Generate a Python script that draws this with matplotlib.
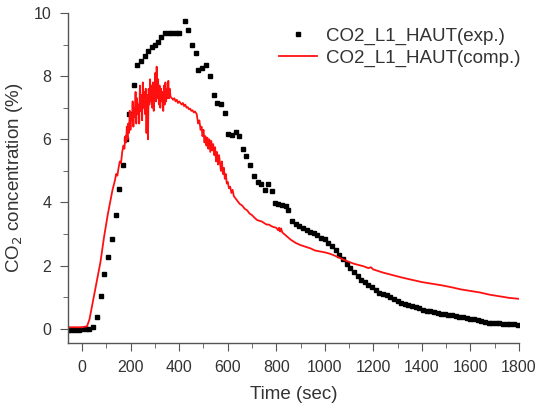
import matplotlib
matplotlib.use('Agg')
import matplotlib.pyplot as plt
from matplotlib.ticker import MultipleLocator

# Experimental data (one point every ~15 s)
exp_t = [-60, -45, -30, -15, 0, 15, 30, 45, 62, 76, 90, 107, 122, 139, 153, 167, 180,
         193, 212, 227, 242, 258, 273, 289, 302, 312, 326, 343, 358, 372, 386, 400,
         422, 436, 451, 468, 479, 494, 512, 527, 542, 557, 572, 587, 601, 617, 632,
         647, 662, 677, 692, 707, 723, 738, 753, 767, 783, 794, 809, 824, 839, 850,
         865, 880, 895, 910, 925, 940, 955, 970, 985, 1000, 1015, 1030, 1045, 1060,
         1075, 1090, 1105, 1120, 1135, 1150, 1165, 1180, 1195, 1210, 1225, 1240, 1255,
         1270, 1285, 1300, 1315, 1330, 1345, 1360, 1375, 1390, 1405, 1420, 1435, 1450,
         1465, 1480, 1495, 1510, 1525, 1540, 1555, 1570, 1585, 1600, 1615, 1630, 1645,
         1660, 1675, 1690, 1705, 1720, 1735, 1750, 1765, 1780, 1795]
exp_c = [-0.03, -0.03, -0.03, -0.03, -0.02, -0.02, 0.0, 0.06, 0.39, 1.03, 1.75, 2.27, 2.83,
         3.6, 4.43, 5.18, 6.0, 6.8, 7.73, 8.34, 8.49, 8.63, 8.78, 8.91, 8.98, 9.09, 9.24,
         9.37, 9.37, 9.37, 9.37, 9.38, 9.74, 9.47, 9.0, 8.73, 8.18, 8.26, 8.35, 8.0, 7.39,
         7.15, 7.12, 6.84, 6.18, 6.15, 6.23, 6.09, 5.68, 5.46, 5.2, 4.83, 4.64, 4.57, 4.41,
         4.59, 4.35, 3.98, 3.95, 3.92, 3.88, 3.75, 3.4, 3.32, 3.25, 3.18, 3.12, 3.06, 3.02,
         2.97, 2.88, 2.83, 2.72, 2.62, 2.48, 2.35, 2.22, 2.05, 1.92, 1.8, 1.66, 1.55, 1.48,
         1.4, 1.32, 1.22, 1.14, 1.1, 1.06, 1.0, 0.94, 0.87, 0.81, 0.77, 0.75, 0.72, 0.69,
         0.65, 0.61, 0.58, 0.55, 0.52, 0.5, 0.48, 0.46, 0.44, 0.43, 0.41, 0.38, 0.36, 0.34,
         0.32, 0.3, 0.28, 0.25, 0.22, 0.2, 0.19, 0.18, 0.17, 0.16, 0.15, 0.15, 0.14, 0.13]

# Computed data, (time, concentration) pairs
comp_pts = [
    (-60, 0.05), (0, 0.05), (20, 0.08), (30, 0.3), (45, 0.9), (60, 1.5), (75, 2.1),
    (90, 2.9), (105, 3.6), (115, 4.0), (125, 4.4), (135, 4.7), (140, 4.9), (145, 4.85),
    (150, 5.1), (155, 5.3), (160, 5.25), (165, 5.6), (170, 5.8), (174, 5.7), (178, 6.1),
    (181, 5.9), (184, 6.4), (187, 6.0), (190, 6.5), (193, 6.2), (196, 6.9), (199, 6.3),
    (202, 6.8), (205, 6.6), (208, 7.2), (211, 6.4), (214, 7.0), (217, 6.7), (220, 7.5),
    (223, 6.5), (226, 7.3), (229, 6.8), (232, 7.1), (235, 6.5), (238, 7.7), (241, 6.9),
    (244, 7.4), (247, 6.6), (250, 7.8), (253, 7.0), (256, 7.5), (259, 6.8), (262, 7.6),
    (265, 6.2), (268, 7.4), (271, 6.0), (274, 7.6), (277, 7.1), (280, 7.9), (283, 7.2),
    (286, 7.7), (289, 7.0), (292, 7.8), (295, 6.9), (298, 7.6), (301, 8.1), (304, 7.2),
    (307, 8.3), (310, 7.3), (313, 7.9), (316, 7.1), (319, 7.7), (322, 7.0), (325, 7.6),
    (328, 7.2), (331, 7.5), (334, 6.9), (337, 7.7), (340, 7.1), (343, 7.8), (346, 7.2),
    (349, 7.6), (352, 7.3), (355, 7.85), (358, 7.3), (361, 7.6), (364, 7.35), (370, 7.3),
    (375, 7.25), (380, 7.3), (385, 7.2), (390, 7.25), (395, 7.15), (400, 7.2), (405, 7.15),
    (410, 7.1), (415, 7.15), (420, 7.05), (425, 7.1), (430, 7.0), (435, 7.02), (440, 6.95),
    (445, 6.97), (450, 6.9), (455, 6.92), (460, 6.85), (465, 6.88), (472, 6.8), (478, 6.5),
    (483, 6.6), (488, 6.3), (492, 6.4), (496, 6.1), (500, 6.3), (504, 5.9), (508, 6.1),
    (512, 5.8), (516, 6.05), (520, 5.7), (524, 6.0), (528, 5.6), (532, 5.95), (536, 5.65),
    (540, 5.85), (544, 5.5), (548, 5.75), (552, 5.3), (556, 5.6), (560, 5.2), (564, 5.5),
    (568, 5.25), (572, 5.0), (576, 5.3), (580, 4.9), (584, 5.1), (588, 4.75), (592, 4.9),
    (596, 4.6), (600, 4.65), (605, 4.45), (610, 4.5), (615, 4.3), (620, 4.4), (625, 4.2),
    (630, 4.15), (640, 4.05), (650, 3.95), (660, 3.9), (670, 3.8), (680, 3.75), (690, 3.65),
    (700, 3.6), (710, 3.52), (720, 3.45), (730, 3.42), (740, 3.4), (750, 3.35), (760, 3.3),
    (770, 3.3), (780, 3.25), (790, 3.22), (800, 3.2), (808, 3.12), (812, 3.2), (816, 3.08),
    (820, 3.18), (825, 3.05), (840, 2.95), (860, 2.82), (880, 2.72), (900, 2.65),
    (920, 2.6), (940, 2.55), (960, 2.48), (980, 2.45), (1000, 2.42), (1020, 2.38),
    (1040, 2.32), (1060, 2.25), (1080, 2.18), (1100, 2.12), (1120, 2.06), (1140, 2.02),
    (1160, 1.98), (1180, 1.92), (1190, 1.95), (1200, 1.88), (1240, 1.78), (1280, 1.7),
    (1320, 1.62), (1360, 1.55), (1400, 1.48), (1440, 1.43), (1480, 1.38), (1520, 1.32),
    (1560, 1.25), (1600, 1.2), (1640, 1.15), (1680, 1.08), (1720, 1.03), (1760, 0.98),
    (1800, 0.95),
]
comp_t = [p[0] for p in comp_pts]
comp_c = [p[1] for p in comp_pts]

plt.rcParams['font.family'] = ['Liberation Sans', 'DejaVu Sans']
txt = '#333333'

fig = plt.figure(figsize=(5.45, 4.05), dpi=100)
ax = fig.add_axes([0.125, 0.153, 0.827, 0.815])

ax.plot(exp_t, exp_c, 's', color='black', markersize=3.0, label='CO2_L1_HAUT(exp.)')
ax.plot(comp_t, comp_c, '-', color='#ff1010', linewidth=1.3, label='CO2_L1_HAUT(comp.)')

ax.set_xlim(-58, 1800)
ax.set_ylim(-0.45, 10)
ax.xaxis.set_major_locator(MultipleLocator(200))
ax.xaxis.set_minor_locator(MultipleLocator(100))
ax.yaxis.set_major_locator(MultipleLocator(2))
ax.yaxis.set_minor_locator(MultipleLocator(1))

for s in ['top', 'right']:
    ax.spines[s].set_visible(False)
for s in ['left', 'bottom']:
    ax.spines[s].set_color('#555555')
    ax.spines[s].set_linewidth(1.0)

ax.tick_params(which='both', direction='out', color='#555555', labelcolor=txt, labelsize=11.5)
ax.tick_params(which='major', length=6, pad=6)
ax.tick_params(which='minor', length=3.5)

ax.set_xlabel('Time (sec)', fontsize=13.5, color=txt, labelpad=8)
ax.set_ylabel('CO$_2$ concentration (%)', fontsize=13.5, color=txt, labelpad=6)

ax.legend(loc='upper right', frameon=False, fontsize=13.5, handlelength=2.0,
          labelcolor=txt, borderaxespad=0.1, handletextpad=0.5, labelspacing=0.25,
          bbox_to_anchor=(1.025, 0.985))

fig.savefig('out.png', dpi=100)
